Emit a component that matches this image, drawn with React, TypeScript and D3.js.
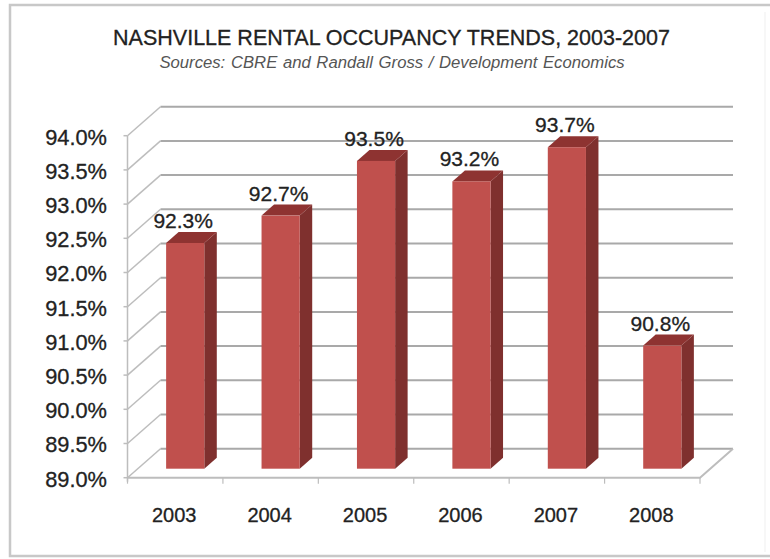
import React from "react";
import * as d3 from "d3";

const years = ["2003", "2004", "2005", "2006", "2007", "2008"];
const occupancy = [92.3, 92.7, 93.5, 93.2, 93.7, 90.8];
const axisTicks = [89, 89.5, 90, 90.5, 91, 91.5, 92, 92.5, 93, 93.5, 94];

const WIDTH = 770;
const HEIGHT = 559;
const FONT = "'Liberation Sans', Arial, sans-serif";

// Front plane of the 3-D box and the depth offset to its back wall.
const left = 127.5;
const right = 700;
const bottom = 477.7;
const top = 135.7;
const depthX = 33;
const depthY = -29;

// Bars sit part way into the box and have a depth of their own.
const barInsetX = 10;
const barInsetY = -9;
const barDepthX = 12.5;
const barDepthY = -11;

const x = d3.scaleBand<string>().domain(years).range([left, right]).paddingInner(0.6).paddingOuter(0.3);
const y = d3.scaleLinear().domain([89, 94]).range([bottom, top]);

const GRID = "#a9a9a9";
const AXIS = "#bdbdbd";
const FRONT = "#c0504d";
const SIDE = "#7f302e";
const CAP = "#8e3331";
const INK = "#222";

function poly(points: [number, number][]) {
  return d3.line()(points) + "Z";
}

export default function App() {
  const w = x.bandwidth();
  const edges = d3.range(years.length + 1).map((i) => left + (i * (right - left)) / years.length);
  const inked = { stroke: INK, strokeWidth: 0.3 };
  return (
    <svg
      width={WIDTH}
      height={HEIGHT}
      viewBox={`0 0 ${WIDTH} ${HEIGHT}`}
      style={{ position: "absolute", left: 0, top: 0, background: "#fff", fontFamily: FONT }}
    >
      <path d="M770 5H10V556H770" fill="none" stroke="#c8c8c8" strokeWidth={2.5} />
      <path d="M765 12V552" fill="none" stroke="#f4f4f4" strokeWidth={1.5} />

      <text x={391.5} y={45} textAnchor="middle" fontSize={21.5} fill={INK} {...inked}>
        NASHVILLE RENTAL OCCUPANCY TRENDS, 2003-2007
      </text>
      <text x={392} y={68} textAnchor="middle" fontSize={16.7} fontStyle="italic" wordSpacing={1} fill="#555">
        Sources: CBRE and Randall Gross / Development Economics
      </text>

      {/* back wall gridlines and the slanted lines on the side wall */}
      {axisTicks.map((t) => (
        <g key={t} fill="none">
          <path d={`M${left} ${y(t)}L${left + depthX} ${y(t) + depthY}`} stroke={AXIS} strokeWidth={1.5} />
          <path d={`M${left + depthX} ${y(t) + depthY}H${right + depthX}`} stroke={GRID} strokeWidth={2} />
          <path d={`M${left - 4} ${y(t)}H${left}`} stroke={AXIS} strokeWidth={1.5} />
        </g>
      ))}

      {/* floor and axes */}
      <path d={`M${left} ${top}V${bottom + 4}`} stroke={AXIS} strokeWidth={1.5} fill="none" />
      <path d={`M${left} ${bottom}H${right}L${right + depthX} ${bottom + depthY}`} stroke={AXIS} strokeWidth={2} fill="none" />
      {edges.map((e) => (
        <path key={e} d={`M${e} ${bottom}V${bottom + 6}`} stroke={AXIS} strokeWidth={1.2} />
      ))}

      {/* bars */}
      {years.map((year, i) => {
        const x0 = x(year)! + barInsetX;
        const x1 = x0 + w;
        const base = bottom + barInsetY;
        const h = y(89) - y(occupancy[i]);
        const t = base - h;
        return (
          <g key={year}>
            <path
              d={poly([[x1, t], [x1 + barDepthX, t + barDepthY], [x1 + barDepthX, base + barDepthY], [x1, base]])}
              fill={SIDE}
            />
            <path
              d={poly([[x0, t], [x0 + barDepthX, t + barDepthY], [x1 + barDepthX, t + barDepthY], [x1, t]])}
              fill={CAP}
            />
            <rect x={x0} y={t} width={w} height={h} fill={FRONT} />
          </g>
        );
      })}

      {/* value labels */}
      {years.map((year, i) => {
        const h = y(89) - y(occupancy[i]);
        const t = bottom + barInsetY - h + barDepthY;
        return (
          <text key={year} x={x(year)! + barInsetX + w / 2 - 2} y={t - 4} textAnchor="middle" fontSize={21} fill={INK} {...inked}>
            {occupancy[i].toFixed(1)}%
          </text>
        );
      })}

      {/* axis labels */}
      {axisTicks.map((t) => (
        <text key={t} x={107} y={y(t) + 8.8} textAnchor="end" fontSize={21.8} fill={INK} {...inked}>
          {t.toFixed(1)}%
        </text>
      ))}
      {years.map((year, i) => (
        <text key={year} x={edges[i] + (edges[1] - edges[0]) / 2 - 1} y={522} textAnchor="middle" fontSize={20} fill={INK} {...inked}>
          {year}
        </text>
      ))}
    </svg>
  );
}
